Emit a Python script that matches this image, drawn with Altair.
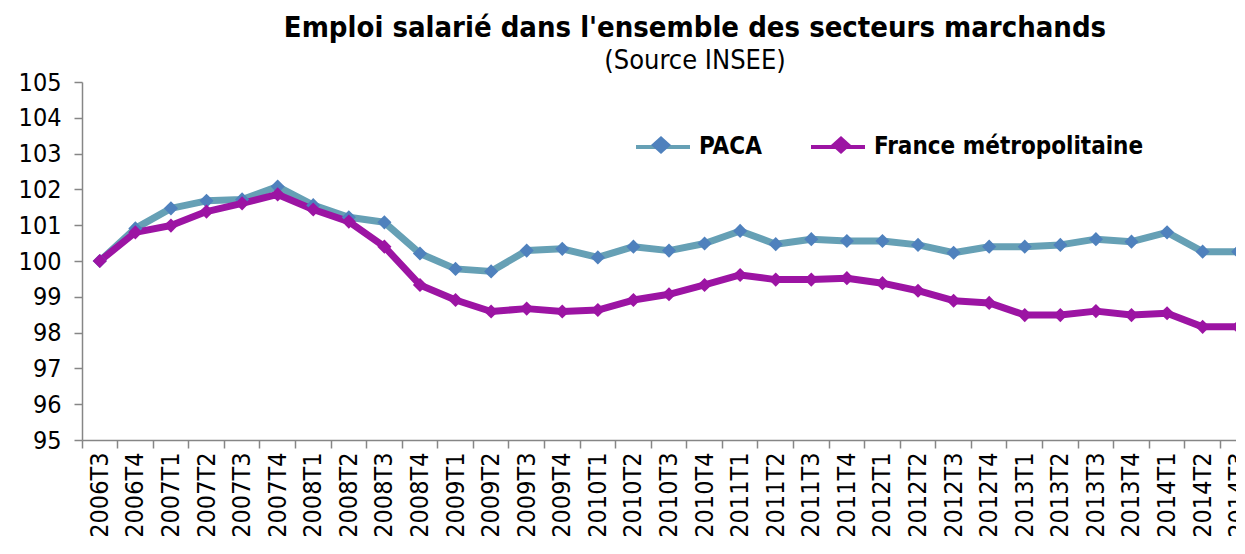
import altair as alt
import pandas as pd

quarters = ["2006T3", "2006T4", "2007T1", "2007T2", "2007T3", "2007T4",
            "2008T1", "2008T2", "2008T3", "2008T4", "2009T1", "2009T2",
            "2009T3", "2009T4", "2010T1", "2010T2", "2010T3", "2010T4",
            "2011T1", "2011T2", "2011T3", "2011T4", "2012T1", "2012T2",
            "2012T3", "2012T4", "2013T1", "2013T2", "2013T3", "2013T4",
            "2014T1", "2014T2", "2014T3"]

paca = [100.0, 100.91, 101.47, 101.68, 101.72, 102.08,
        101.56, 101.22, 101.08, 100.21, 99.78, 99.71,
        100.29, 100.34, 100.10, 100.40, 100.29, 100.49,
        100.84, 100.47, 100.61, 100.56, 100.56, 100.45,
        100.23, 100.40, 100.40, 100.45, 100.61, 100.54,
        100.80, 100.26, 100.26]

france = [100.0, 100.80, 100.99, 101.38, 101.61, 101.86,
          101.44, 101.10, 100.40, 99.33, 98.91, 98.59,
          98.67, 98.59, 98.63, 98.91, 99.07, 99.33,
          99.61, 99.48, 99.48, 99.52, 99.38, 99.17,
          98.89, 98.83, 98.49, 98.49, 98.60, 98.49,
          98.54, 98.16, 98.16]

series = ["PACA", "France métropolitaine"]
line_colors = ["#66A0B5", "#9C14A3"]
marker_colors = ["#4F81BD", "#9C14A3"]

rows = []
for name, vals in zip(series, [paca, france]):
    for q, v in zip(quarters, vals):
        rows.append({"trimestre": q, "indice": v, "serie": name})
df = pd.DataFrame(rows)

FONT = "DejaVu Sans Condensed"
AXIS_GREY = "#868686"

xscale = alt.Scale(type="band", domain=quarters, paddingInner=0, paddingOuter=0)
yscale = alt.Scale(domain=[95, 105], nice=False, zero=False)

yaxis = alt.Axis(values=list(range(95, 106)), grid=False, domainColor=AXIS_GREY,
                 domainWidth=1.5, tickColor=AXIS_GREY, tickWidth=1.5, tickSize=8,
                 labelFont=FONT, labelFontSize=25, labelColor="black",
                 labelPadding=13, title=None, format="d")

base = alt.Chart(df)

lines = base.mark_line(strokeWidth=7, strokeJoin="round").encode(
    x=alt.X("trimestre:N", scale=xscale, sort=quarters,
            axis=alt.Axis(orient="bottom", labelAngle=270, labelFont=FONT,
                          labelFontSize=25, labelColor="black", ticks=False,
                          domainColor=AXIS_GREY, domainWidth=1.5, labelPadding=12,
                          title=None, grid=False, labelBound=False,
                          labelOverlap=False)),
    y=alt.Y("indice:Q", scale=yscale, axis=yaxis),
    color=alt.Color("serie:N", scale=alt.Scale(domain=series, range=line_colors),
                    legend=alt.Legend(title=None, orient="none", direction="horizontal",
                                      legendX=552, legendY=36,
                                      symbolType="M-1,0L1,0", symbolSize=2916,
                                      symbolStrokeWidth=4, labelFont=FONT,
                                      labelFontSize=24, labelFontWeight="bold",
                                      labelColor="black", labelOffset=7,
                                      columnPadding=41, labelLimit=400)),
    order=alt.Order("serie_order:Q"),
).transform_calculate(serie_order="datum.serie == 'PACA' ? 0 : 1")

points = base.mark_point(filled=True, opacity=1, shape="diamond", size=200).encode(
    x=alt.X("trimestre:N", scale=xscale, sort=quarters,
            axis=alt.Axis(orient="bottom", bandPosition=0, labels=False, ticks=True,
                          tickSize=8, tickColor=AXIS_GREY, tickWidth=1.5,
                          domain=False, title=None, grid=False)),
    y=alt.Y("indice:Q", scale=yscale, axis=yaxis),
    fill=alt.Fill("serie:N", scale=alt.Scale(domain=series, range=marker_colors),
                  legend=alt.Legend(title=None, orient="none", direction="horizontal",
                                    legendX=552, legendY=36,
                                    symbolType="M0,-0.33L0.37,0L0,0.33L-0.37,0Z",
                                    symbolSize=2916, symbolStrokeWidth=0,
                                    labelExpr="''", labelFontSize=24,
                                    labelOffset=7, columnPadding=119)),
)

chart = alt.layer(lines, points).resolve_scale(
    color="independent", fill="independent"
).resolve_axis(x="independent").properties(
    width=1174,
    height=358,
    title=alt.TitleParams(
        text="Emploi salarié dans l'ensemble des secteurs marchands",
        subtitle="(Source INSEE)",
        font=FONT, fontSize=29, fontWeight="bold", color="black",
        subtitleFont=FONT, subtitleFontSize=27, subtitleColor="black",
        subtitlePadding=5, anchor="middle", dx=26, offset=-4,
    ),
    autosize=alt.AutoSizeParams(type="none"),
    padding={"left": 74, "top": 74, "right": -20, "bottom": 106},
).configure_view(stroke=None)

chart.save("out.html", embed_options={"renderer": "svg", "actions": False})
